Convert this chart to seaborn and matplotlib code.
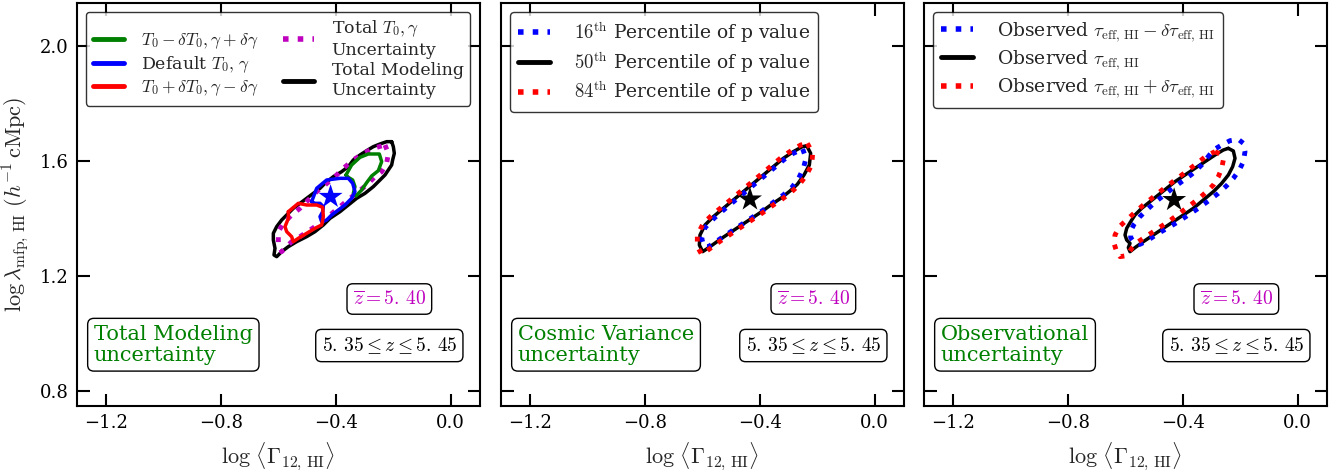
import numpy as np
import pandas as pd
import matplotlib
matplotlib.use("Agg")
import matplotlib.pyplot as plt
from matplotlib.lines import Line2D
import seaborn as sns

# ---------------- data ----------------
# Panel 1: modelling uncertainty contours
p1_black_x = [-0.2055, -0.1997, -0.1963, -0.2021, -0.2055, -0.2171, -0.2287, -0.2461, -0.2693, -0.2983, -0.3273, -0.3563, -0.3852, -0.42, -0.4432, -0.4722, -0.5012, -0.536, -0.5649, -0.5881, -0.6055, -0.6148, -0.6113, -0.6171, -0.6171, -0.6055, -0.5881, -0.5707, -0.5476, -0.5244, -0.5012, -0.478, -0.4548, -0.4374, -0.4084, -0.3794, -0.3563, -0.3389, -0.3157, -0.2925, -0.2693, -0.2461, -0.2229]
p1_black_y = [1.6677, 1.6503, 1.6271, 1.604, 1.5866, 1.5692, 1.5518, 1.5344, 1.5112, 1.488, 1.4706, 1.4474, 1.4242, 1.401, 1.3779, 1.3547, 1.3373, 1.3199, 1.3025, 1.2851, 1.2677, 1.2735, 1.2967, 1.3257, 1.3489, 1.372, 1.3952, 1.4126, 1.4358, 1.4532, 1.4706, 1.488, 1.5054, 1.5228, 1.546, 1.5634, 1.5808, 1.604, 1.6213, 1.6364, 1.6503, 1.6596, 1.6677]
p1_mag_x = [-0.2287, -0.2171, -0.2229, -0.2403, -0.2635, -0.2925, -0.3215, -0.3505, -0.3852, -0.42, -0.4548, -0.4896, -0.5244, -0.5534, -0.5881, -0.5997, -0.5997, -0.5823, -0.5534, -0.5244, -0.4954, -0.4664, -0.4374, -0.4026, -0.3736, -0.3389, -0.3041, -0.2693]
p1_mag_y = [1.6561, 1.6271, 1.5924, 1.5634, 1.546, 1.517, 1.4938, 1.4706, 1.4416, 1.4126, 1.3836, 1.3605, 1.3373, 1.3199, 1.2851, 1.3141, 1.3547, 1.3836, 1.4126, 1.4358, 1.4648, 1.4938, 1.517, 1.546, 1.575, 1.604, 1.6271, 1.6445]
p1_green_x = [-0.3644, -0.3447, -0.3157, -0.2867, -0.2484, -0.2403, -0.2519, -0.2751, -0.2925, -0.3099, -0.3296, -0.3389, -0.3331, -0.3412, -0.3563]
p1_green_y = [1.5518, 1.5866, 1.6132, 1.6248, 1.6248, 1.5982, 1.5669, 1.5483, 1.5251, 1.4996, 1.479, 1.488, 1.5112, 1.5344, 1.5437]
p1_blue_x = [-0.4838, -0.4664, -0.4316, -0.3852, -0.3563, -0.3412, -0.3331, -0.3447, -0.3678, -0.391, -0.4142, -0.4316, -0.449, -0.4548, -0.4455, -0.4432, -0.4548, -0.4722]
p1_blue_y = [1.459, 1.5054, 1.5344, 1.5402, 1.5402, 1.5228, 1.4938, 1.4706, 1.4474, 1.43, 1.4126, 1.3953, 1.3895, 1.4069, 1.4242, 1.4416, 1.4532, 1.4532]
p1_red_x = [-0.5649, -0.5302, -0.5012, -0.4664, -0.4455, -0.4432, -0.449, -0.4722, -0.5012, -0.5302, -0.5476, -0.5534, -0.5707, -0.5765, -0.5649]
p1_red_y = [1.4242, 1.4532, 1.4474, 1.4474, 1.4393, 1.4069, 1.3779, 1.3663, 1.3489, 1.3315, 1.3199, 1.3373, 1.3547, 1.372, 1.401]
p1_star = (-0.418, 1.476)

# Panel 2: cosmic variance contours
p2_black_x = [-0.2368, -0.2229, -0.2275, -0.2461, -0.2693, -0.2948, -0.3238, -0.3585, -0.3933, -0.4281, -0.4629, -0.4977, -0.5325, -0.5614, -0.5846, -0.5985, -0.6101, -0.6078, -0.5904, -0.5614, -0.5267, -0.4919, -0.4571, -0.4223, -0.3875, -0.3527, -0.318, -0.2832, -0.2542]
p2_black_y = [1.6538, 1.6271, 1.5866, 1.5518, 1.5193, 1.4961, 1.4729, 1.4497, 1.4242, 1.401, 1.3779, 1.3547, 1.3315, 1.3106, 1.2944, 1.2851, 1.3083, 1.3431, 1.3779, 1.4068, 1.4358, 1.4648, 1.4938, 1.5228, 1.5518, 1.5808, 1.6097, 1.6329, 1.6492]
p2_red_x = [-0.2345, -0.2159, -0.2194, -0.2391, -0.2635, -0.2913, -0.3215, -0.3562, -0.391, -0.4258, -0.4606, -0.4954, -0.5302, -0.5591, -0.5846, -0.602, -0.6171, -0.6171, -0.5962, -0.566, -0.5302, -0.4954, -0.4606, -0.4258, -0.391, -0.3562, -0.3215, -0.2867, -0.2577]
p2_red_y = [1.6619, 1.6271, 1.5866, 1.5495, 1.517, 1.4915, 1.4683, 1.4451, 1.4196, 1.3964, 1.3732, 1.35, 1.3268, 1.306, 1.2874, 1.2758, 1.3025, 1.3431, 1.3836, 1.4126, 1.4416, 1.4706, 1.4996, 1.5286, 1.5576, 1.5866, 1.6155, 1.6387, 1.6561]
p2_blue_x = [-0.2507, -0.2391, -0.2484, -0.2658, -0.289, -0.318, -0.3527, -0.3875, -0.4223, -0.4571, -0.4919, -0.5267, -0.5556, -0.5788, -0.5939, -0.602, -0.5904, -0.5591, -0.5243, -0.4896, -0.4548, -0.42, -0.3852, -0.3504, -0.3157, -0.2832]
p2_blue_y = [1.6422, 1.6097, 1.575, 1.5379, 1.5077, 1.4822, 1.4567, 1.43, 1.4068, 1.3836, 1.3605, 1.3373, 1.3176, 1.3025, 1.3025, 1.3315, 1.3686, 1.401, 1.4312, 1.4602, 1.4892, 1.5182, 1.5472, 1.5761, 1.6051, 1.6271]
p2_star = (-0.434, 1.467)

# Panel 3: observational uncertainty contours
p3_black_x = [-0.2414, -0.224, -0.2182, -0.2264, -0.2414, -0.2646, -0.2936, -0.3284, -0.3632, -0.3979, -0.4327, -0.4675, -0.5023, -0.5371, -0.5661, -0.5835, -0.5892, -0.5835, -0.595, -0.6008, -0.595, -0.5811, -0.5661, -0.5429, -0.5139, -0.4849, -0.4559, -0.4269, -0.3921, -0.3574, -0.3226, -0.2878, -0.259]
p3_black_y = [1.6445, 1.6353, 1.6098, 1.5808, 1.5518, 1.5228, 1.4938, 1.4648, 1.4358, 1.4127, 1.3895, 1.3663, 1.3431, 1.3199, 1.299, 1.2851, 1.299, 1.3141, 1.3257, 1.3431, 1.3663, 1.3895, 1.4127, 1.4358, 1.4591, 1.4822, 1.5054, 1.5286, 1.5518, 1.575, 1.5982, 1.6213, 1.6387]
p3_blue_x = [-0.3145, -0.2936, -0.2646, -0.2356, -0.2066, -0.1892, -0.1835, -0.1892, -0.2032, -0.224, -0.2472, -0.2762, -0.311, -0.3458, -0.3806, -0.4153, -0.4501, -0.4849, -0.5197, -0.5487, -0.5661, -0.5811, -0.5811, -0.5695, -0.5487, -0.5255, -0.4965, -0.4675, -0.4385, -0.4037, -0.3689, -0.3342]
p3_blue_y = [1.6121, 1.6387, 1.6561, 1.6712, 1.6758, 1.6619, 1.6329, 1.5982, 1.5692, 1.5402, 1.5147, 1.488, 1.4614, 1.4358, 1.4127, 1.3895, 1.3686, 1.3489, 1.3257, 1.3106, 1.3141, 1.3338, 1.357, 1.3802, 1.4069, 1.43, 1.4567, 1.4799, 1.5031, 1.5286, 1.5541, 1.5866]
p3_red_x = [-0.2878, -0.2681, -0.2588, -0.2646, -0.2762, -0.2936, -0.3168, -0.3458, -0.3806, -0.4153, -0.4501, -0.4849, -0.5197, -0.5545, -0.5776, -0.595, -0.6182, -0.6298, -0.6391, -0.6356, -0.6205, -0.595, -0.5661, -0.5371, -0.5081, -0.4791, -0.4501, -0.4153, -0.3806, -0.3458, -0.3168]
p3_red_y = [1.6329, 1.6237, 1.604, 1.575, 1.546, 1.517, 1.4938, 1.4683, 1.4416, 1.415, 1.3895, 1.3663, 1.3431, 1.3199, 1.2967, 1.2712, 1.2677, 1.2851, 1.3141, 1.3431, 1.3721, 1.3953, 1.4219, 1.4474, 1.4706, 1.4938, 1.517, 1.5425, 1.5692, 1.5958, 1.619]
p3_star = (-0.43, 1.465)

xticks = [-1.2, -0.8, -0.4, 0.0]
yticks = [0.8, 1.2, 1.6, 2.0]
panel_titles = ["Total Modeling\nuncertainty", "Cosmic Variance\nuncertainty", "Observational\nuncertainty"]
zbar_text = r"$\overline{z} = 5.\,40$"
zrange_text = r"$5.\,35 \leq z \leq 5.\,45$"

MAGENTA = (0.75, 0.0, 0.75)

# ---------------- style ----------------
sns.set_theme(style="ticks")
plt.rcParams["font.family"] = ["DejaVu Serif"]
plt.rcParams["mathtext.fontset"] = "cm"
plt.rcParams["axes.linewidth"] = 1.5
plt.rcParams["axes.edgecolor"] = "black"

fig = plt.figure(figsize=(13.41, 4.75), dpi=100)
W, H = 1341, 475
lefts = [77, 501, 924]
axes = [fig.add_axes([l / W, 69.5 / H, 402.5 / W, 402.5 / H]) for l in lefts]


def closed(x, y):
    return list(x) + [x[0]], list(y) + [y[0]]


def contour(ax, x, y, color, ls="-", lw=2.5):
    cx, cy = closed(x, y)
    df = pd.DataFrame({"x": cx, "y": cy})
    sns.lineplot(data=df, x="x", y="y", sort=False, estimator=None, ax=ax,
                 color=color, linestyle=ls, linewidth=lw)


dot_lw = 3.5

# Panel 1
ax = axes[0]
contour(ax, p1_black_x, p1_black_y, "black", "-", 2.5)
contour(ax, p1_mag_x, p1_mag_y, MAGENTA, ":", dot_lw)
contour(ax, p1_green_x, p1_green_y, "green", "-", 2.5)
contour(ax, p1_blue_x, p1_blue_y, "blue", "-", 2.5)
contour(ax, p1_red_x, p1_red_y, "red", "-", 2.5)
sns.scatterplot(x=[p1_star[0]], y=[p1_star[1]], marker="*", s=330, color="blue",
                edgecolor="none", ax=ax)
h1 = [
    Line2D([], [], color="green", lw=3.5),
    Line2D([], [], color="blue", lw=3.5),
    Line2D([], [], color="red", lw=3.5),
    Line2D([], [], color=MAGENTA, lw=4, ls=":"),
    Line2D([], [], color="black", lw=3.5),
]
l1 = [r"$T_0-\delta T_0, \gamma+\delta\gamma$", r"Default $T_0,\,\gamma$",
      r"$T_0+\delta T_0, \gamma-\delta\gamma$", "Total $T_0,\\gamma$\nUncertainty",
      "Total Modeling\nUncertainty"]
ax.legend(h1, l1, ncol=2, loc="upper left", fontsize=12.5, frameon=True,
          fancybox=True, edgecolor="black", handlelength=1.8, handletextpad=1.0,
          columnspacing=1.4, borderaxespad=0.5, labelspacing=0.2)

# Panel 2
ax = axes[1]
contour(ax, p2_black_x, p2_black_y, "black", "-", 2.5)
contour(ax, p2_blue_x, p2_blue_y, "blue", ":", dot_lw)
contour(ax, p2_red_x, p2_red_y, "red", ":", dot_lw)
sns.scatterplot(x=[p2_star[0]], y=[p2_star[1]], marker="*", s=330, color="black",
                edgecolor="none", ax=ax)
h2 = [Line2D([], [], color="blue", lw=4, ls=":"),
      Line2D([], [], color="black", lw=3.5),
      Line2D([], [], color="red", lw=4, ls=":")]
l2 = [r"$16^{\rm th}$ Percentile of p value", r"$50^{\rm th}$ Percentile of p value",
      r"$84^{\rm th}$ Percentile of p value"]
ax.legend(h2, l2, loc="upper left", fontsize=13.5, frameon=True, fancybox=True,
          edgecolor="black", handlelength=1.7, handletextpad=1.3,
          borderaxespad=0.5, labelspacing=0.25)

# Panel 3
ax = axes[2]
contour(ax, p3_black_x, p3_black_y, "black", "-", 2.5)
contour(ax, p3_blue_x, p3_blue_y, "blue", ":", dot_lw)
contour(ax, p3_red_x, p3_red_y, "red", ":", dot_lw)
sns.scatterplot(x=[p3_star[0]], y=[p3_star[1]], marker="*", s=330, color="black",
                edgecolor="none", ax=ax)
l3 = [r"Observed $\tau_{\rm eff,\,HI}-\delta\tau_{\rm eff,\,HI}$",
      r"Observed $\tau_{\rm eff,\,HI}$",
      r"Observed $\tau_{\rm eff,\,HI}+\delta\tau_{\rm eff,\,HI}$"]
ax.legend(h2, l3, loc="upper left", fontsize=13.5, frameon=True, fancybox=True,
          edgecolor="black", handlelength=1.7, handletextpad=1.3,
          borderaxespad=0.5, labelspacing=0.25)

for i, ax in enumerate(axes):
    ax.set_xlim(-1.3, 0.1)
    ax.set_ylim(0.75, 2.15)
    ax.set_xticks(xticks)
    ax.set_xticklabels([f"{t:.1f}".replace("-", "\u2212") for t in xticks])
    ax.set_yticks(yticks)
    ax.set_yticklabels([f"{t:.1f}" for t in yticks])
    ax.tick_params(direction="in", length=9, width=1.5, top=True, right=True,
                   labelsize=13, pad=6, colors="black")
    if i > 0:
        ax.tick_params(labelleft=False)
        ax.set_ylabel("")
    else:
        ax.set_ylabel(r"$\log\lambda_{\rm mfp,\,HI}\ (h^{-1}\,{\rm cMpc})$", fontsize=16,
                      labelpad=6)
    ax.set_xlabel(r"$\log\,\langle\Gamma_{12,\,\rm HI}\rangle$", fontsize=16, labelpad=6)
    ax.text(0.042, 0.151, panel_titles[i], transform=ax.transAxes, color="green",
            fontsize=15, ha="left", va="center", linespacing=1.15,
            bbox=dict(boxstyle="round,pad=0.3", fc="white", ec="black", lw=1))
    ax.text(0.776, 0.2646, zbar_text, transform=ax.transAxes, color=MAGENTA,
            fontsize=14, ha="center", va="center",
            bbox=dict(boxstyle="round,pad=0.3", fc="white", ec="black", lw=1))
    ax.text(0.776, 0.149, zrange_text, transform=ax.transAxes, color="black",
            fontsize=14, ha="center", va="center",
            bbox=dict(boxstyle="round,pad=0.3", fc="white", ec="black", lw=1))
    for s in ax.spines.values():
        s.set_linewidth(1.5)
        s.set_color("black")

fig.savefig("out.png", dpi=100)
